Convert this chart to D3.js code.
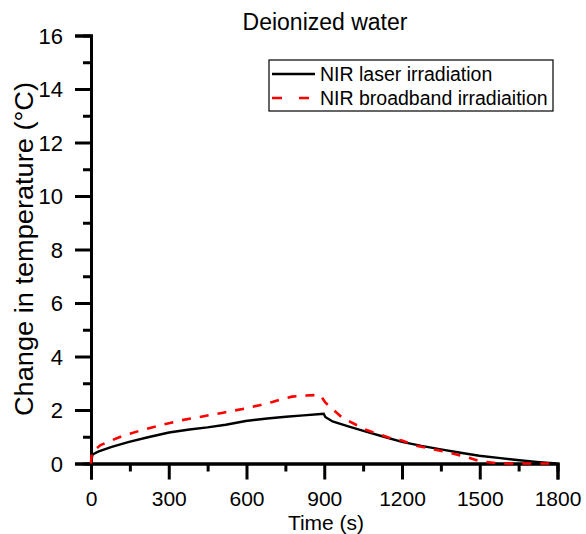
<!DOCTYPE html>
<html>
<head>
<meta charset="utf-8">
<script src="https://cdn.jsdelivr.net/npm/d3@7"></script>
<style>
body { margin: 0; background: #fff; }
text { font-family: "Liberation Sans", Arial, sans-serif; fill: #000; }
</style>
</head>
<body>
<svg id="chart"></svg>
<script>
// laser irradiation (black line)
var laserTime = [0, 5, 10, 30, 80, 147, 220, 301, 380, 449, 520, 597, 680, 752, 820, 887, 898, 904, 932, 996, 1061, 1130, 1200, 1275, 1350, 1420, 1498, 1580, 1653, 1720, 1795];
var laserTemp = [0, 0.31, 0.36, 0.45, 0.62, 0.81, 0.98, 1.16, 1.27, 1.35, 1.45, 1.59, 1.68, 1.75, 1.80, 1.85, 1.86, 1.74, 1.57, 1.38, 1.19, 1.00, 0.81, 0.66, 0.53, 0.41, 0.29, 0.20, 0.12, 0.06, 0.0];

// broadband irradiation (red dashed)
var bbTime = [0, 3, 37, 121, 200, 276, 350, 430, 510, 585, 650, 700, 740, 776, 830, 868, 885, 904, 971, 1061, 1151, 1200, 1254, 1383, 1450, 1498, 1575, 1650, 1800];
var bbTemp = [0, 0.42, 0.69, 1.03, 1.26, 1.45, 1.62, 1.76, 1.90, 2.04, 2.18, 2.30, 2.42, 2.50, 2.54, 2.56, 2.55, 2.28, 1.70, 1.26, 0.96, 0.86, 0.67, 0.40, 0.24, 0.09, 0.0, 0.0, 0.0];

var xTicks = [0, 300, 600, 900, 1200, 1500, 1800];
var yTicks = [0, 2, 4, 6, 8, 10, 12, 14, 16];
var seriesNames = ["NIR laser irradiation", "NIR broadband irradiaition"];

var screen = { width: 586, height: 534 };
var margins = { left: 91, right: 28.5, top: 35.5, bottom: 70.5 };
var graph = {
    width: screen.width - margins.left - margins.right,
    height: screen.height - margins.top - margins.bottom
};

var svg = d3.select("#chart")
    .attr("width", screen.width)
    .attr("height", screen.height);

var xScale = d3.scaleLinear().domain([0, 1800]).range([0, graph.width]);
var yScale = d3.scaleLinear().domain([0, 16]).range([graph.height, 0]);

var makeTranslateString = function (x, y) {
    return "translate(" + x + "," + y + ")";
};

var target = svg.append("g")
    .attr("transform", makeTranslateString(margins.left, margins.top));

// minor ticks (every 150 s / every 1 degree)
var xMinor = d3.axisBottom(xScale).tickValues(d3.range(150, 1800, 300)).tickSize(8).tickFormat("");
var yMinor = d3.axisLeft(yScale).tickValues(d3.range(1, 16, 2)).tickSize(8).tickFormat("");
var xAxis = d3.axisBottom(xScale).tickValues(xTicks).tickSize(16).tickFormat(d3.format("d"));
var yAxis = d3.axisLeft(yScale).tickValues(yTicks).tickSize(16).tickFormat(d3.format("d"));

target.append("g").attr("transform", makeTranslateString(0, graph.height)).call(xMinor);
target.append("g").call(yMinor);
var gx = target.append("g").attr("transform", makeTranslateString(0, graph.height)).call(xAxis);
var gy = target.append("g").call(yAxis);

target.selectAll(".domain").attr("stroke", "#000").attr("stroke-width", 3);
target.selectAll(".tick line").attr("stroke", "#000").attr("stroke-width", 3);
target.selectAll(".tick text").style("font-size", "21px").attr("fill", "#000");
gx.selectAll(".tick text").attr("y", 42.5).attr("dy", 0);
gy.selectAll(".tick text").attr("x", -28).attr("dy", "0.35em").style("font-size", "22px");

var lineGenerator = d3.line()
    .x(function (d) { return xScale(d[0]); })
    .y(function (d) { return yScale(d[1]); });

var laserPts = laserTime.map(function (t, i) { return [t, laserTemp[i]]; });
var bbPts = bbTime.map(function (t, i) { return [t, bbTemp[i]]; });

target.append("path")
    .datum(laserPts)
    .attr("d", lineGenerator)
    .attr("fill", "none")
    .attr("stroke", "#000")
    .attr("stroke-width", 2.4);

target.append("path")
    .datum(bbPts)
    .attr("d", lineGenerator)
    .attr("fill", "none")
    .attr("stroke", "#ff0000")
    .attr("stroke-width", 2.6)
    .attr("stroke-dasharray", "9,9");

// legend
var legend = svg.append("g").attr("transform", makeTranslateString(269, 60));
legend.append("rect")
    .attr("width", 284).attr("height", 51)
    .attr("fill", "#fff").attr("stroke", "#000").attr("stroke-width", 1.2);
var rows = legend.selectAll("g.row")
    .data(seriesNames)
    .enter().append("g")
    .attr("transform", function (d, i) { return makeTranslateString(0, 14 + i * 24); });
rows.append("line")
    .attr("x1", 3).attr("x2", 46).attr("y1", 0).attr("y2", 0)
    .attr("stroke", function (d, i) { return i === 0 ? "#000" : "#ff0000"; })
    .attr("stroke-width", function (d, i) { return i === 0 ? 2.4 : 2.6; })
    .attr("stroke-dasharray", function (d, i) { return i === 0 ? null : "10,17"; });
rows.append("text")
    .attr("x", 51).attr("y", 0).attr("dy", "0.36em")
    .style("font-size", "19.5px")
    .text(function (d) { return d; });

// labels
svg.append("text")
    .attr("x", 325).attr("y", 30)
    .attr("text-anchor", "middle")
    .style("font-size", "23px")
    .text("Deionized water");

svg.append("text")
    .attr("x", 326).attr("y", 529.5)
    .attr("text-anchor", "middle")
    .style("font-size", "21px")
    .text("Time (s)");

svg.append("text")
    .attr("transform", makeTranslateString(33, 249) + " rotate(-90)")
    .attr("text-anchor", "middle")
    .style("font-size", "25px")
    .attr("textLength", 334)
    .attr("lengthAdjust", "spacingAndGlyphs")
    .text("Change in temperature (\u00B0C)");
</script>
</body>
</html>
